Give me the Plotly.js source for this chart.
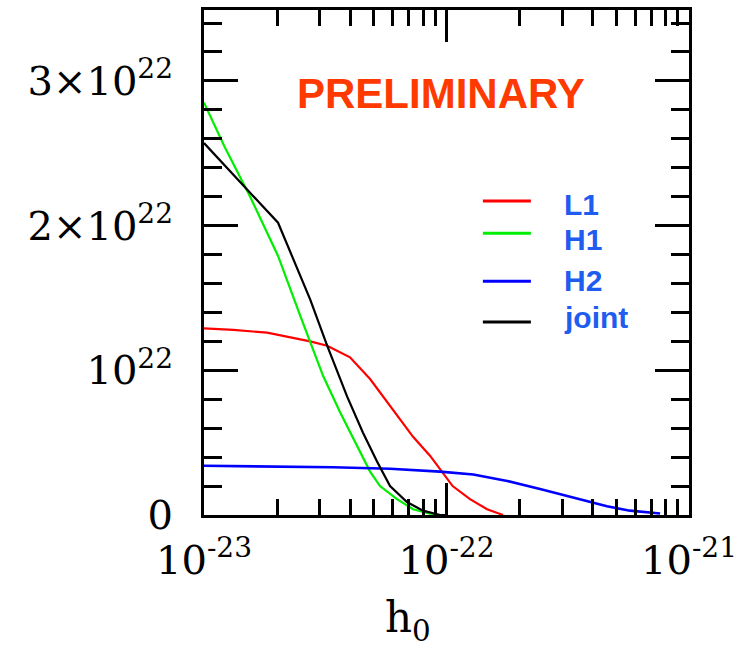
<!DOCTYPE html>
<html>
<head>
<meta charset="utf-8">
<script src="https://cdn.plot.ly/plotly-3.0.1.min.js"></script>
<style>html,body{margin:0;padding:0;background:#fff;}#plot{width:752px;height:650px;}</style>
</head>
<body>
<div id="plot"></div>
<script>
// ---- data ----
const seriesNames = ['L1', 'H1', 'H2', 'joint'];
const seriesColors = ['#ff0000', '#00ee00', '#0000ff', '#000000'];

const hL1 = [1.0e-23, 1.32e-23, 1.82e-23, 2.26e-23, 2.74e-23, 3.22e-23, 4.0e-23, 4.84e-23, 6.02e-23, 7.28e-23, 8.55e-23, 9.4e-23, 1.06e-22, 1.25e-22, 1.47e-22, 1.71e-22];
const vL1 = [1.29e22, 1.28e22, 1.26e22, 1.23e22, 1.20e22, 1.17e22, 1.09e22, 0.94e22, 0.73e22, 0.54e22, 0.41e22, 0.32e22, 0.20e22, 0.11e22, 0.04e22, 0.0];

const hH1 = [1.0e-23, 1.22e-23, 1.55e-23, 2.02e-23, 2.49e-23, 3.1e-23, 3.64e-23, 4.27e-23, 4.84e-23, 5.32e-23, 6.25e-23, 7.28e-23, 8.55e-23, 9.4e-23, 1.0e-22];
const vH1 = [2.85e22, 2.54e22, 2.20e22, 1.79e22, 1.38e22, 0.96e22, 0.71e22, 0.48e22, 0.30e22, 0.20e22, 0.11e22, 0.04e22, 0.01e22, 0.0, 0.0];

const hH2 = [1.0e-23, 3.4e-23, 5.85e-23, 9.4e-23, 1.29e-22, 1.78e-22, 2.43e-22, 3.32e-22, 4.59e-22, 5.71e-22, 7.6e-22];
const vH2 = [0.34e22, 0.33e22, 0.32e22, 0.30e22, 0.28e22, 0.235e22, 0.18e22, 0.12e22, 0.06e22, 0.03e22, 0.01e22];

const hJoint = [1.0e-23, 2.02e-23, 2.74e-23, 3.22e-23, 3.89e-23, 4.52e-23, 5.17e-23, 5.85e-23, 6.87e-23, 8.0e-23, 9.4e-23, 1.0e-22];
const vJoint = [2.57e22, 2.02e22, 1.49e22, 1.17e22, 0.82e22, 0.57e22, 0.37e22, 0.20e22, 0.09e22, 0.03e22, 0.0, 0.0];

const xTickVals = [1e-23, 1e-22, 1e-21];
const xTickText = ['10<sup>-23</sup>', '10<sup>-22</sup>', '10<sup>-21</sup>'];
const yTickVals = [0, 1e22, 2e22, 3e22];
const yTickText = ['0', '10<sup>22</sup>', '2\u00d710<sup>22</sup>', '3\u00d710<sup>22</sup>'];

// ---- traces ----
const xs = [hL1, hH1, hH2, hJoint];
const ys = [vL1, vH1, vH2, vJoint];
const widths = [2.2, 2.2, 2.6, 2.2];
const traces = seriesNames.map((n, i) => ({
  x: xs[i], y: ys[i], type: 'scatter', mode: 'lines', name: n,
  line: {color: seriesColors[i], width: widths[i]}, showlegend: false, hoverinfo: 'skip'
}));

// minor ticks for log x axis (2..9 in each decade)
const xMinor = [];
[-23, -22].forEach(d => { for (let k = 2; k <= 9; k++) xMinor.push(k * Math.pow(10, d)); });

const serif = 'DejaVu Serif, serif';
const sans = 'Liberation Sans, Arial, sans-serif';

// manual legend
const legLineY = [0.622, 0.558, 0.463, 0.382];
const legTextY = [0.614, 0.545, 0.465, 0.392];
const shapes = [];
const annotations = [];
seriesNames.forEach((n, i) => {
  shapes.push({type: 'line', xref: 'paper', yref: 'paper', x0: 0.575, x1: 0.674, y0: legLineY[i], y1: legLineY[i],
    line: {color: seriesColors[i], width: 3}});
  annotations.push({xref: 'paper', yref: 'paper', x: 0.738, y: legTextY[i], xanchor: 'left', yanchor: 'middle',
    text: '<b>' + n + '</b>', showarrow: false, font: {family: sans, size: 30, color: '#1f5cf0'}});
});
annotations.push({xref: 'paper', yref: 'paper', x: 0.489, y: 0.834, xanchor: 'center', yanchor: 'middle',
  text: '<b>PRELIMINARY</b>', showarrow: false, font: {family: sans, size: 42, color: '#ff3a00'}});
annotations.push({xref: 'paper', yref: 'paper', x: 0.42, y: -0.208, xanchor: 'center', yanchor: 'middle',
  text: 'h<sub>0</sub>', showarrow: false, font: {family: serif, size: 42, color: '#000'}});

const layout = {
  width: 752, height: 650,
  margin: {l: 204, r: 63, t: 10, b: 135},
  paper_bgcolor: '#fff', plot_bgcolor: '#fff',
  showlegend: false,
  xaxis: {
    type: 'log', range: [-23, -21],
    tickmode: 'array', tickvals: xTickVals, ticktext: xTickText,
    ticks: 'inside', ticklen: 32, tickwidth: 3, tickcolor: '#000',
    minor: {tickmode: 'array', tickvals: xMinor, ticks: 'inside', ticklen: 16, tickwidth: 3, tickcolor: '#000', showgrid: false},
    showline: true, linewidth: 3, linecolor: '#000', mirror: 'ticks',
    showgrid: false, zeroline: false,
    ticklabelstandoff: 8,
    tickfont: {family: serif, size: 40, color: '#000'}
  },
  yaxis: {
    range: [0, 3.49e22],
    tickmode: 'array', tickvals: yTickVals, ticktext: yTickText,
    ticks: 'inside', ticklen: 34, tickwidth: 3, tickcolor: '#000',
    minor: {dtick: 0.2e22, tick0: 0, ticks: 'inside', ticklen: 18, tickwidth: 3, tickcolor: '#000', showgrid: false},
    showline: true, linewidth: 3, linecolor: '#000', mirror: 'ticks',
    showgrid: false, zeroline: false,
    ticklabelstandoff: 20,
    tickfont: {family: serif, size: 40, color: '#000'}
  },
  shapes: shapes,
  annotations: annotations
};

Plotly.newPlot('plot', traces, layout, {staticPlot: true, displayModeBar: false});
</script>
</body>
</html>
